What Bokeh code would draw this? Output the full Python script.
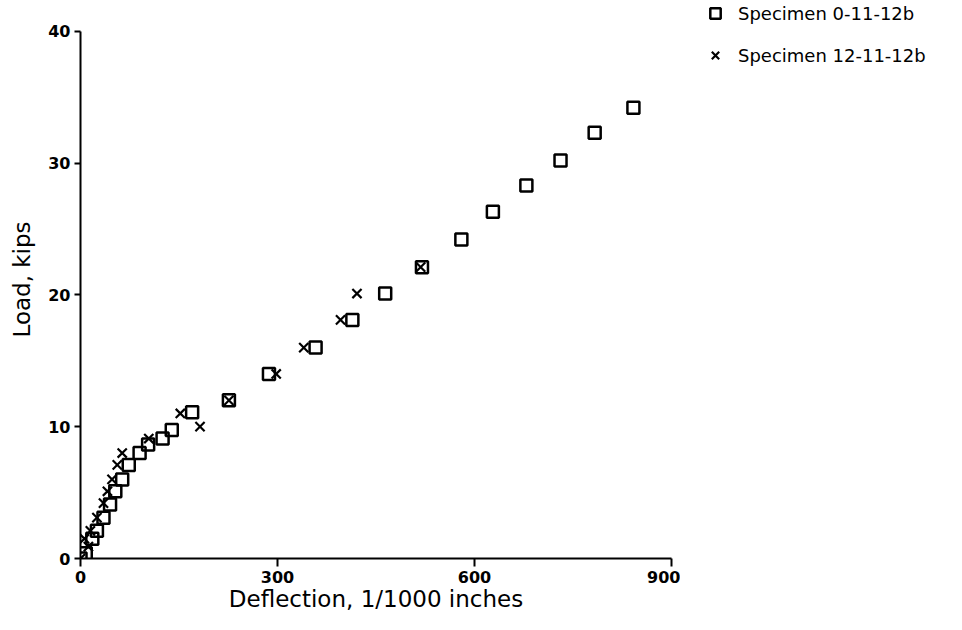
from bokeh.plotting import figure
from bokeh.models import Range1d, FixedTicker, Legend, LegendItem
from bokeh.layouts import row
from bokeh.embed import file_html
from bokeh.resources import INLINE

# Specimen 0-11-12b (squares)
sq_defl = [0, 8, 18, 25, 35, 45, 53, 63.5, 73.5, 90, 103, 125, 139, 170, 226, 287, 358, 414, 464, 520, 580, 628, 679, 731, 783, 842]
sq_load = [0, 0.4, 1.5, 2.1, 3.1, 4.1, 5.1, 6.0, 7.1, 8.0, 8.65, 9.1, 9.75, 11.1, 12.0, 14.0, 16.0, 18.1, 20.1, 22.1, 24.2, 26.3, 28.3, 30.2, 32.3, 34.2]

# Specimen 12-11-12b (crosses)
x_defl = [0, 12, 6, 15, 25, 35, 41, 48, 56, 63.5, 104, 152, 182, 226, 298, 340, 396, 421, 518]
x_load = [0, 0.9, 1.5, 2.1, 3.1, 4.2, 5.1, 6.0, 7.1, 8.0, 9.1, 11.0, 10.0, 12.0, 14.0, 16.0, 18.1, 20.1, 22.1]

x_ticks = [0, 300, 600, 900]
y_ticks = [0, 10, 20, 30, 40]
series_names = ["Specimen 0-11-12b", "Specimen 12-11-12b"]

FONT = "DejaVu Sans"
SQ_STYLE = dict(marker="square", size=12, fill_color=None, line_color="black", line_width=2.5)
X_STYLE = dict(marker="x", size=13, line_color="black", line_width=2.2)

p = figure(width=680, height=614, output_backend="svg", toolbar_location=None,
           x_range=Range1d(0, 900), y_range=Range1d(0, 42.33),
           min_border_left=80, min_border_right=9, min_border_top=0, min_border_bottom=56)
p.outline_line_color = None
p.grid.visible = False
p.background_fill_color = "white"
p.border_fill_color = "white"

p.scatter(sq_defl, sq_load, **SQ_STYLE)
p.scatter(x_defl, x_load, **X_STYLE)

for ax in (p.xaxis[0], p.yaxis[0]):
    ax.axis_line_width = 2
    ax.axis_line_color = "black"
    ax.major_tick_line_width = 2
    ax.major_tick_line_color = "black"
    ax.major_tick_in = 0
    ax.minor_tick_line_color = None
    ax.major_label_text_font = FONT
    ax.major_label_text_font_size = "16px"
    ax.major_label_text_font_style = "bold"
    ax.major_label_text_color = "black"
    ax.axis_label_text_font = FONT
    ax.axis_label_text_font_style = "normal"
    ax.axis_label_text_color = "black"
    ax.axis_label_text_font_size = "23px"

p.xaxis.ticker = FixedTicker(ticks=x_ticks)
p.yaxis.ticker = FixedTicker(ticks=y_ticks)
p.xaxis.bounds = (0, 900)
p.yaxis.bounds = (0, 40)
p.xaxis.major_tick_out = 8
p.yaxis.major_tick_out = 6
p.xaxis.major_label_standoff = 4
p.yaxis.major_label_standoff = 4
p.xaxis.axis_label = "Deflection, 1/1000 inches"
p.yaxis.axis_label = "Load, kips"
p.xaxis.axis_label_standoff = 0
p.yaxis.axis_label_standoff = 10

# legend panel (separate figure to the right of the plot, no axes)
p2 = figure(width=266, height=614, output_backend="svg", toolbar_location=None,
            x_range=Range1d(0, 1), y_range=Range1d(0, 1),
            x_axis_location=None, y_axis_location=None,
            min_border_left=22, min_border_right=0, min_border_top=0, min_border_bottom=0)
p2.grid.visible = False
p2.outline_line_color = None
p2.background_fill_color = "white"
p2.border_fill_color = "white"
# legend proxies, positioned outside the visible range of this panel
d_sq = p2.scatter([5], [5], **SQ_STYLE)
d_x = p2.scatter([5], [5], **X_STYLE)

legend = Legend(items=[LegendItem(label=series_names[0], renderers=[d_sq]),
                       LegendItem(label=series_names[1], renderers=[d_x])],
                location="top_left", padding=2, margin=0, spacing=16,
                glyph_width=26, glyph_height=26, label_height=26,
                label_standoff=10, border_line_color=None,
                background_fill_alpha=0,
                label_text_font=FONT, label_text_font_size="18px",
                label_text_color="black")
p2.add_layout(legend, "center")

layout = row(p, p2, spacing=0)
open("out.html", "w").write(file_html(layout, INLINE))
